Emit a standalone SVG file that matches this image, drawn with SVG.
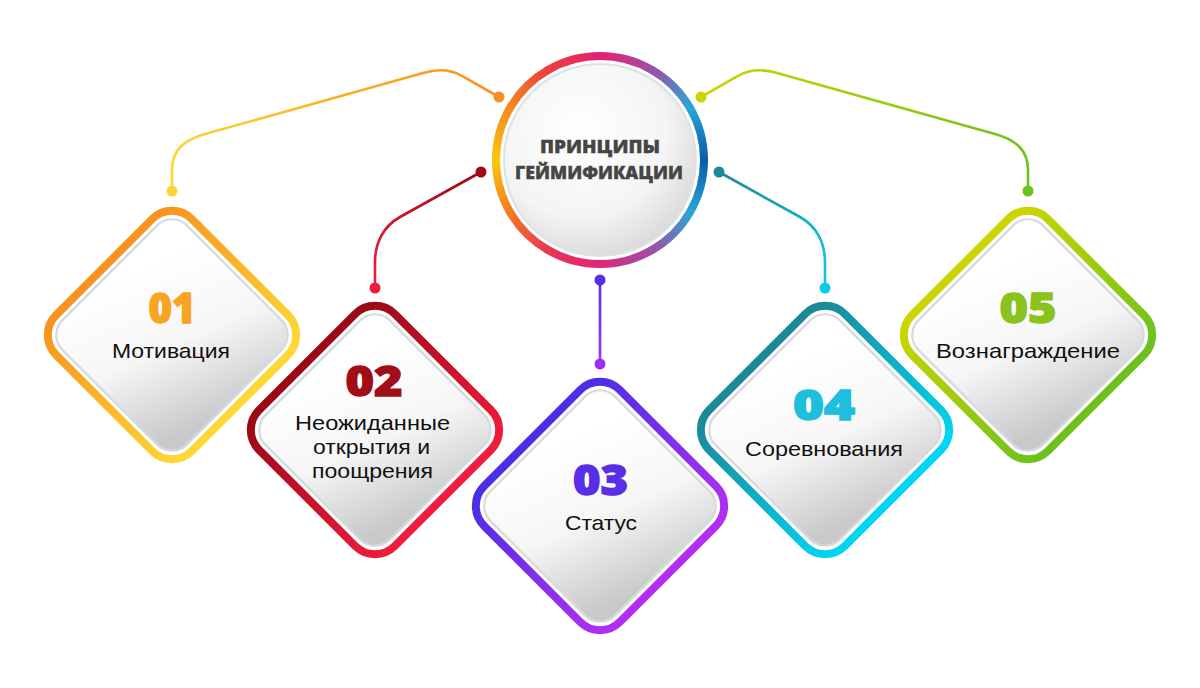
<svg xmlns="http://www.w3.org/2000/svg" width="1200" height="688" viewBox="0 0 1200 688">
<defs>
<style>
.num{font-family:'Open Sans','Liberation Sans',sans-serif;font-weight:800;font-size:43px;text-anchor:middle;stroke-width:1.4}
.lbl{font-family:'Liberation Sans',Arial,sans-serif;font-size:21px;fill:#111;text-anchor:middle}
.ttl{font-family:'Open Sans','Liberation Sans',sans-serif;font-weight:800;font-size:18px;fill:#454545;text-anchor:middle;stroke:#454545;stroke-width:0.4}
.band{fill:none;stroke-width:8}
.inner{fill:url(#fillG);stroke:#d6dade;stroke-width:2.2}
.conn{fill:none;stroke-width:2.6}
.seg{fill:none;stroke-width:8;stroke-linecap:round}
</style>
<linearGradient id="fillG" x1="0.1" y1="0.35" x2="1" y2="0.7">
<stop offset="0" stop-color="#ffffff"/><stop offset="0.5" stop-color="#f6f6f6"/><stop offset="1" stop-color="#c9c9c9"/>
</linearGradient>
<radialGradient id="discG" cx="0.4" cy="0.35" r="0.75">
<stop offset="0" stop-color="#ffffff"/><stop offset="0.6" stop-color="#f4f4f4"/><stop offset="1" stop-color="#d2d2d2"/>
</radialGradient>
<linearGradient id="b1" x1="0" y1="0" x2="1" y2="0"><stop offset="0" stop-color="#f7931e"/><stop offset="1" stop-color="#fdd835"/></linearGradient>
<linearGradient id="b2" x1="0" y1="0" x2="1" y2="0"><stop offset="0" stop-color="#9a0a14"/><stop offset="1" stop-color="#f01c3c"/></linearGradient>
<linearGradient id="b3" x1="0" y1="0" x2="1" y2="0"><stop offset="0" stop-color="#4a2fe4"/><stop offset="1" stop-color="#b22ff2"/></linearGradient>
<linearGradient id="b4" x1="0" y1="0" x2="1" y2="0"><stop offset="0" stop-color="#1c8898"/><stop offset="1" stop-color="#00d6f2"/></linearGradient>
<linearGradient id="b5" x1="0" y1="0" x2="1" y2="0"><stop offset="0" stop-color="#cbd500"/><stop offset="1" stop-color="#6cc11e"/></linearGradient>
<linearGradient id="c1" gradientUnits="userSpaceOnUse" x1="172" y1="191" x2="499" y2="97"><stop offset="0" stop-color="#fdd835"/><stop offset="1" stop-color="#f7931e"/></linearGradient>
<linearGradient id="c2" gradientUnits="userSpaceOnUse" x1="481" y1="172" x2="375" y2="288"><stop offset="0" stop-color="#9a0a14"/><stop offset="1" stop-color="#ee1c3b"/></linearGradient>
<linearGradient id="c3" gradientUnits="userSpaceOnUse" x1="600" y1="280" x2="600" y2="364"><stop offset="0" stop-color="#5530e6"/><stop offset="1" stop-color="#9e2ff2"/></linearGradient>
<linearGradient id="c4" gradientUnits="userSpaceOnUse" x1="719" y1="172" x2="825" y2="288"><stop offset="0" stop-color="#1c8898"/><stop offset="1" stop-color="#0ccbe8"/></linearGradient>
<linearGradient id="c5" gradientUnits="userSpaceOnUse" x1="701" y1="97" x2="1028" y2="191"><stop offset="0" stop-color="#cbd500"/><stop offset="1" stop-color="#6cc11e"/></linearGradient>
<linearGradient id="r0" gradientUnits="userSpaceOnUse" x1="704" y1="160" x2="690.07" y2="212"><stop offset="0" stop-color="#0a5ca6"/><stop offset="1" stop-color="#2aa6d2"/></linearGradient>
<linearGradient id="r1" gradientUnits="userSpaceOnUse" x1="690.07" y1="212" x2="652" y2="250.07"><stop offset="0" stop-color="#2aa6d2"/><stop offset="1" stop-color="#9c50a8"/></linearGradient>
<linearGradient id="r2" gradientUnits="userSpaceOnUse" x1="652" y1="250.07" x2="600" y2="264"><stop offset="0" stop-color="#9c50a8"/><stop offset="1" stop-color="#e0257a"/></linearGradient>
<linearGradient id="r3" gradientUnits="userSpaceOnUse" x1="600" y1="264" x2="548" y2="250.07"><stop offset="0" stop-color="#e0257a"/><stop offset="1" stop-color="#ea3550"/></linearGradient>
<linearGradient id="r4" gradientUnits="userSpaceOnUse" x1="548" y1="250.07" x2="509.93" y2="212"><stop offset="0" stop-color="#ea3550"/><stop offset="1" stop-color="#f47a22"/></linearGradient>
<linearGradient id="r5" gradientUnits="userSpaceOnUse" x1="509.93" y1="212" x2="496" y2="160"><stop offset="0" stop-color="#f47a22"/><stop offset="1" stop-color="#f9c80e"/></linearGradient>
<linearGradient id="r6" gradientUnits="userSpaceOnUse" x1="496" y1="160" x2="509.93" y2="108"><stop offset="0" stop-color="#f9c80e"/><stop offset="1" stop-color="#f58a1e"/></linearGradient>
<linearGradient id="r7" gradientUnits="userSpaceOnUse" x1="509.93" y1="108" x2="548" y2="69.93"><stop offset="0" stop-color="#f58a1e"/><stop offset="1" stop-color="#ec3e3c"/></linearGradient>
<linearGradient id="r8" gradientUnits="userSpaceOnUse" x1="548" y1="69.93" x2="600" y2="56"><stop offset="0" stop-color="#ec3e3c"/><stop offset="1" stop-color="#e42072"/></linearGradient>
<linearGradient id="r9" gradientUnits="userSpaceOnUse" x1="600" y1="56" x2="652" y2="69.93"><stop offset="0" stop-color="#e42072"/><stop offset="1" stop-color="#9c50a8"/></linearGradient>
<linearGradient id="r10" gradientUnits="userSpaceOnUse" x1="652" y1="69.93" x2="690.07" y2="108"><stop offset="0" stop-color="#9c50a8"/><stop offset="1" stop-color="#2aa6d2"/></linearGradient>
<linearGradient id="r11" gradientUnits="userSpaceOnUse" x1="690.07" y1="108" x2="704" y2="160"><stop offset="0" stop-color="#2aa6d2"/><stop offset="1" stop-color="#0a5ca6"/></linearGradient>
</defs>
<rect width="1200" height="688" fill="#ffffff"/>

<g id="connectors">
<path class="conn" stroke="url(#c1)" d="M172,191 V170 C172,150 184,140 205,134 L423,73 C440,68 452,70 462,76 L499,97"/>
<circle cx="172" cy="191" r="5.5" fill="#fdd53a"/>
<circle cx="499" cy="97" r="5.5" fill="#f39020"/>
<path class="conn" stroke="url(#c2)" d="M481,172 L400,217 C384,226 375,242 375,262 V288"/>
<circle cx="481" cy="172" r="5.5" fill="#a10a14"/>
<circle cx="375" cy="288" r="5.5" fill="#ee1c3b"/>
<path class="conn" stroke="url(#c3)" d="M600,280 V364"/>
<circle cx="600" cy="280" r="5.5" fill="#5530e6"/>
<circle cx="600" cy="364" r="5.5" fill="#9e2ff2"/>
<path class="conn" stroke="url(#c4)" d="M719,172 L800,217 C816,226 825,242 825,262 V288"/>
<circle cx="719" cy="172" r="5.5" fill="#1c8898"/>
<circle cx="825" cy="288" r="5.5" fill="#0ccbe8"/>
<path class="conn" stroke="url(#c5)" d="M1028,191 V170 C1028,150 1016,140 995,134 L777,73 C760,68 748,70 738,76 L701,97"/>
<circle cx="701" cy="97" r="5.5" fill="#cbd500"/>
<circle cx="1028" cy="191" r="5.5" fill="#6cc11e"/>
</g>

<g id="center">
<circle cx="600" cy="160" r="96" fill="url(#discG)" stroke="#dde1e5" stroke-width="2"/>
<path class="seg" stroke="url(#r0)" d="M704,160 A104,104 0 0 1 690.07,212"/>
<path class="seg" stroke="url(#r1)" d="M690.07,212 A104,104 0 0 1 652,250.07"/>
<path class="seg" stroke="url(#r2)" d="M652,250.07 A104,104 0 0 1 600,264"/>
<path class="seg" stroke="url(#r3)" d="M600,264 A104,104 0 0 1 548,250.07"/>
<path class="seg" stroke="url(#r4)" d="M548,250.07 A104,104 0 0 1 509.93,212"/>
<path class="seg" stroke="url(#r5)" d="M509.93,212 A104,104 0 0 1 496,160"/>
<path class="seg" stroke="url(#r6)" d="M496,160 A104,104 0 0 1 509.93,108"/>
<path class="seg" stroke="url(#r7)" d="M509.93,108 A104,104 0 0 1 548,69.93"/>
<path class="seg" stroke="url(#r8)" d="M548,69.93 A104,104 0 0 1 600,56"/>
<path class="seg" stroke="url(#r9)" d="M600,56 A104,104 0 0 1 652,69.93"/>
<path class="seg" stroke="url(#r10)" d="M652,69.93 A104,104 0 0 1 690.07,108"/>
<path class="seg" stroke="url(#r11)" d="M690.07,108 A104,104 0 0 1 704,160"/>
<text class="ttl" x="600" y="153" textLength="120" lengthAdjust="spacingAndGlyphs">ПРИНЦИПЫ</text>
<text class="ttl" x="599" y="179" textLength="168" lengthAdjust="spacingAndGlyphs">ГЕЙМИФИКАЦИИ</text>
</g>

<g id="node1">
<g transform="translate(172,335) rotate(45)">
<rect class="band" x="-96" y="-96" width="192" height="192" rx="28" stroke="url(#b1)"/>
<rect class="inner" x="-88" y="-88" width="176" height="176" rx="21"/>
</g>
<text class="num" x="172" y="323" fill="#f7a420" stroke="#f7a420" textLength="47" lengthAdjust="spacingAndGlyphs">01</text>
<text class="lbl" x="171" y="358" textLength="118" lengthAdjust="spacingAndGlyphs">Мотивация</text>
</g>

<g id="node2">
<g transform="translate(375,430) rotate(45)">
<rect class="band" x="-96" y="-96" width="192" height="192" rx="28" stroke="url(#b2)"/>
<rect class="inner" x="-88" y="-88" width="176" height="176" rx="21"/>
</g>
<text class="num" x="374" y="396" fill="#a20d17" stroke="#a20d17" textLength="57" lengthAdjust="spacingAndGlyphs">02</text>
<text class="lbl" x="372.5" y="430" textLength="155" lengthAdjust="spacingAndGlyphs">Неожиданные</text>
<text class="lbl" x="371.5" y="454" textLength="117" lengthAdjust="spacingAndGlyphs">открытия и</text>
<text class="lbl" x="372.5" y="478" textLength="121" lengthAdjust="spacingAndGlyphs">поощрения</text>
</g>

<g id="node3">
<g transform="translate(600,506) rotate(45)">
<rect class="band" x="-96" y="-96" width="192" height="192" rx="28" stroke="url(#b3)"/>
<rect class="inner" x="-88" y="-88" width="176" height="176" rx="21"/>
</g>
<text class="num" x="600.5" y="495" fill="#5a2de6" stroke="#5a2de6" textLength="55" lengthAdjust="spacingAndGlyphs">03</text>
<text class="lbl" x="601" y="530" textLength="72" lengthAdjust="spacingAndGlyphs">Статус</text>
</g>

<g id="node4">
<g transform="translate(825,430) rotate(45)">
<rect class="band" x="-96" y="-96" width="192" height="192" rx="28" stroke="url(#b4)"/>
<rect class="inner" x="-88" y="-88" width="176" height="176" rx="21"/>
</g>
<text class="num" x="824" y="420" fill="#1dbfdc" stroke="#1dbfdc" textLength="62" lengthAdjust="spacingAndGlyphs">04</text>
<text class="lbl" x="824" y="456" textLength="158" lengthAdjust="spacingAndGlyphs">Соревнования</text>
</g>

<g id="node5">
<g transform="translate(1028,335) rotate(45)">
<rect class="band" x="-96" y="-96" width="192" height="192" rx="28" stroke="url(#b5)"/>
<rect class="inner" x="-88" y="-88" width="176" height="176" rx="21"/>
</g>
<text class="num" x="1028" y="323" fill="#8cc21e" stroke="#8cc21e" textLength="57" lengthAdjust="spacingAndGlyphs">05</text>
<text class="lbl" x="1028" y="358" textLength="184" lengthAdjust="spacingAndGlyphs">Вознаграждение</text>
</g>
</svg>
